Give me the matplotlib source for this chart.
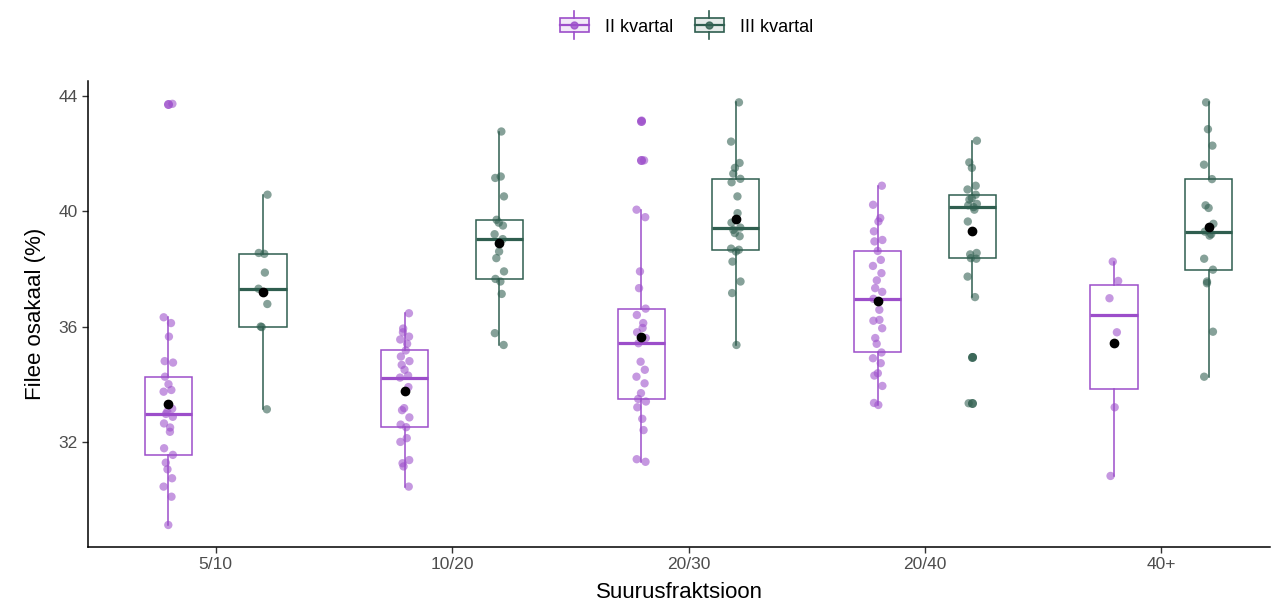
import numpy as np
import matplotlib.pyplot as plt
from matplotlib.legend_handler import HandlerBase
from matplotlib.patches import Rectangle
from matplotlib.lines import Line2D

plt.rcParams['font.family'] = ['Liberation Sans', 'DejaVu Sans']

categories = ['5/10', '10/20', '20/30', '20/40', '40+']
series_names = ['II kvartal', 'III kvartal']

# II kvartal - fillet share (%) per size fraction
ii_5_10 = [29.12, 30.10, 30.45, 30.74, 31.05, 31.28, 31.55, 31.78, 32.35, 32.50,
           32.64, 32.87, 32.97, 33.05, 33.15, 33.74, 33.80, 34.00, 34.26, 34.75,
           34.80, 35.65, 36.12, 36.32, 43.72]
ii_10_20 = [30.45, 31.15, 31.26, 31.37, 32.00, 32.13, 32.51, 32.60, 32.85, 33.10,
            33.17, 33.90, 34.23, 34.30, 34.50, 34.67, 34.80, 34.96, 35.17, 35.40,
            35.55, 35.65, 35.80, 35.93, 36.46]
ii_20_30 = [31.31, 31.40, 32.41, 32.80, 33.20, 33.40, 33.49, 33.69, 34.03, 34.26,
            34.50, 34.78, 35.42, 35.60, 35.80, 35.95, 36.12, 36.40, 36.62, 37.33,
            37.91, 39.79, 40.05, 41.76, 43.14]
ii_20_40 = [33.28, 33.35, 33.94, 34.30, 34.38, 34.73, 34.90, 35.10, 35.40, 35.60,
            35.94, 36.20, 36.23, 36.58, 36.96, 37.20, 37.33, 37.60, 37.85, 38.10,
            38.31, 38.62, 38.95, 39.00, 39.30, 39.64, 39.76, 40.22, 40.88]
ii_40 = [30.82, 33.20, 35.80, 36.98, 37.58, 38.25]

# III kvartal
iii_5_10 = [33.13, 35.98, 36.00, 36.78, 37.31, 37.87, 38.52, 38.55, 40.57]
iii_10_20 = [35.36, 35.77, 37.13, 37.56, 37.65, 37.91, 38.37, 38.60, 39.03, 39.20,
             39.50, 39.60, 39.70, 40.51, 41.15, 41.20, 42.76]
iii_20_30 = [35.36, 37.16, 37.56, 38.25, 38.60, 38.66, 38.70, 39.13, 39.24, 39.35,
             39.43, 39.60, 39.93, 40.51, 41.00, 41.12, 41.30, 41.50, 41.67, 42.41,
             43.77]
iii_20_40 = [33.34, 34.94, 37.02, 37.73, 38.35, 38.37, 38.50, 38.55, 39.64, 40.05,
             40.14, 40.20, 40.25, 40.40, 40.45, 40.57, 40.75, 40.88, 41.50, 41.69,
             42.44]
iii_40 = [34.26, 35.82, 37.50, 37.56, 37.97, 38.35, 39.20, 39.15, 39.29, 39.56,
          40.20, 40.11, 41.11, 41.61, 42.27, 42.84, 43.77]

series_data = [[ii_5_10, ii_10_20, ii_20_30, ii_20_40, ii_40],
               [iii_5_10, iii_10_20, iii_20_30, iii_20_40, iii_40]]
colors = ['#9C4ECA', '#2F5E4F']
offsets = [-0.2, 0.2]


class BoxHandler(HandlerBase):
    # legend key: small box with whiskers, median and a point
    def __init__(self, color, **kw):
        super().__init__(**kw)
        self.color = color

    def create_artists(self, legend, orig_handle, xdescent, ydescent,
                       width, height, fontsize, trans):
        c = self.color
        x0, y0 = -xdescent, -ydescent
        cx, cy = x0 + width / 2, y0 + height / 2
        bh = height * 0.8
        box = Rectangle((x0, cy - bh / 2), width, bh, facecolor=c, alpha=0.12,
                        edgecolor='none', transform=trans)
        edge = Rectangle((x0, cy - bh / 2), width, bh, facecolor='none',
                         edgecolor=c, lw=1.2, transform=trans)
        wt = Line2D([cx, cx], [cy + bh / 2, y0 + height * 1.3], color=c, lw=1.2, transform=trans)
        wb = Line2D([cx, cx], [cy - bh / 2, y0 - height * 0.3], color=c, lw=1.2, transform=trans)
        med = Line2D([x0, x0 + width], [cy, cy], color=c, lw=1.6, transform=trans)
        pt = Line2D([cx], [cy], marker='o', color=c, markersize=5, alpha=0.8,
                    linestyle='none', transform=trans)
        return [box, edge, wt, wb, med, pt]


fig = plt.figure(figsize=(12.74, 6.07), dpi=100)
ax = fig.add_axes([0.069, 0.099, 0.928, 0.768])

x = np.arange(1, len(categories) + 1)
for s in range(2):
    col = colors[s]
    for i, vals in enumerate(series_data[s]):
        vals = np.array(vals)
        pos = x[i] + offsets[s]
        ax.boxplot(vals, positions=[pos], widths=0.2, whis=1.5, showcaps=False,
                   patch_artist=True, manage_ticks=False,
                   boxprops=dict(facecolor='none', edgecolor=col, linewidth=1.1),
                   medianprops=dict(color=col, linewidth=2.3),
                   whiskerprops=dict(color=col, linewidth=1.1),
                   flierprops=dict(marker='o', markerfacecolor=col, markeredgecolor='none',
                                   markersize=6.5, alpha=0.85))
        # deterministic jitter pattern
        jit = 0.02 * np.sin(np.arange(len(vals)) * 2.4 + s + i)
        ax.scatter(pos + jit, vals, s=36, color=col, alpha=0.58, edgecolors='none', zorder=3)
        ax.scatter([pos], [vals.mean()], s=36, color='black', zorder=5)

ax.set_xlim(0.46, 5.46)
ax.set_ylim(28.36, 44.52)
ax.set_xticks(x)
ax.set_xticklabels(categories)
ax.set_yticks([32, 36, 40, 44])
ax.tick_params(labelsize=12.5, labelcolor='#4D4D4D', color='#333333', length=4, width=1)
for side in ['top', 'right']:
    ax.spines[side].set_visible(False)
for side in ['left', 'bottom']:
    ax.spines[side].set_linewidth(1.1)

ax.set_xlabel('Suurusfraktsioon', fontsize=16, labelpad=7)
ax.set_ylabel('Filee osakaal (%)', fontsize=16, labelpad=9)

handles = [Rectangle((0, 0), 1, 1), Rectangle((0, 0), 1, 1)]
fig.legend(handles, series_names, loc='center', bbox_to_anchor=(0.539, 0.957), ncol=2,
           frameon=False, fontsize=13, handlelength=1.6, handleheight=1.1,
           handletextpad=0.9, columnspacing=1.2,
           handler_map={handles[0]: BoxHandler(colors[0]), handles[1]: BoxHandler(colors[1])})

fig.savefig('out.png', dpi=100)
